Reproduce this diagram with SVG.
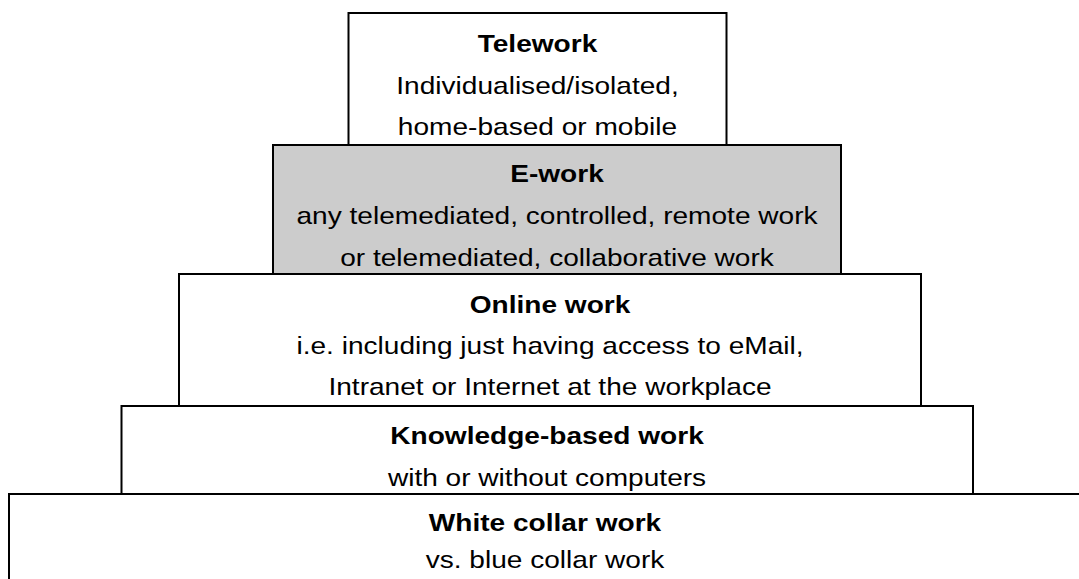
<svg xmlns="http://www.w3.org/2000/svg" width="1079" height="579" viewBox="0 0 1079 579">
  <style>
    .box { fill: #ffffff; stroke: #000000; stroke-width: 2; }
    .shaded { fill: #cccccc; }
    text { font-family: "Liberation Sans", Arial, sans-serif; font-size: 24px; fill: #000000; text-anchor: middle; }
    .title { font-weight: bold; }
  </style>
  <rect x="0" y="0" width="1079" height="579" fill="#ffffff"/>

  <!-- Pyramid tiers, drawn top-down so each lower tier overlaps the one above -->
  <g id="telework">
    <rect class="box" x="348.5" y="13" width="378" height="140"/>
    <g transform="translate(537.5 0) scale(1.17 1)">
      <text class="title" x="0" y="52">Telework</text>
      <text x="0" y="94">Individualised/isolated,</text>
      <text x="0" y="135">home-based or mobile</text>
    </g>
  </g>

  <g id="e-work">
    <rect class="box shaded" x="273" y="145" width="568" height="135"/>
    <g transform="translate(557 0) scale(1.17 1)">
      <text class="title" x="0" y="182">E-work</text>
      <text x="0" y="224">any telemediated, controlled, remote work</text>
      <text x="0" y="266">or telemediated, collaborative work</text>
    </g>
  </g>

  <g id="online-work">
    <rect class="box" x="179" y="274" width="742" height="140"/>
    <g transform="translate(550 0) scale(1.17 1)">
      <text class="title" x="0" y="313">Online work</text>
      <text x="0" y="354">i.e. including just having access to eMail,</text>
      <text x="0" y="395">Intranet or Internet at the workplace</text>
    </g>
  </g>

  <g id="knowledge-work">
    <rect class="box" x="121.5" y="406" width="851.5" height="100"/>
    <g transform="translate(547 0) scale(1.17 1)">
      <text class="title" x="0" y="444">Knowledge-based work</text>
      <text x="0" y="486">with or without computers</text>
    </g>
  </g>

  <g id="white-collar-work">
    <rect class="box" x="9" y="494" width="1072" height="110"/>
    <g transform="translate(545 0) scale(1.17 1)">
      <text class="title" x="0" y="531">White collar work</text>
      <text x="0" y="568">vs. blue collar work</text>
    </g>
  </g>

  <g id="connectors"/>
</svg>
